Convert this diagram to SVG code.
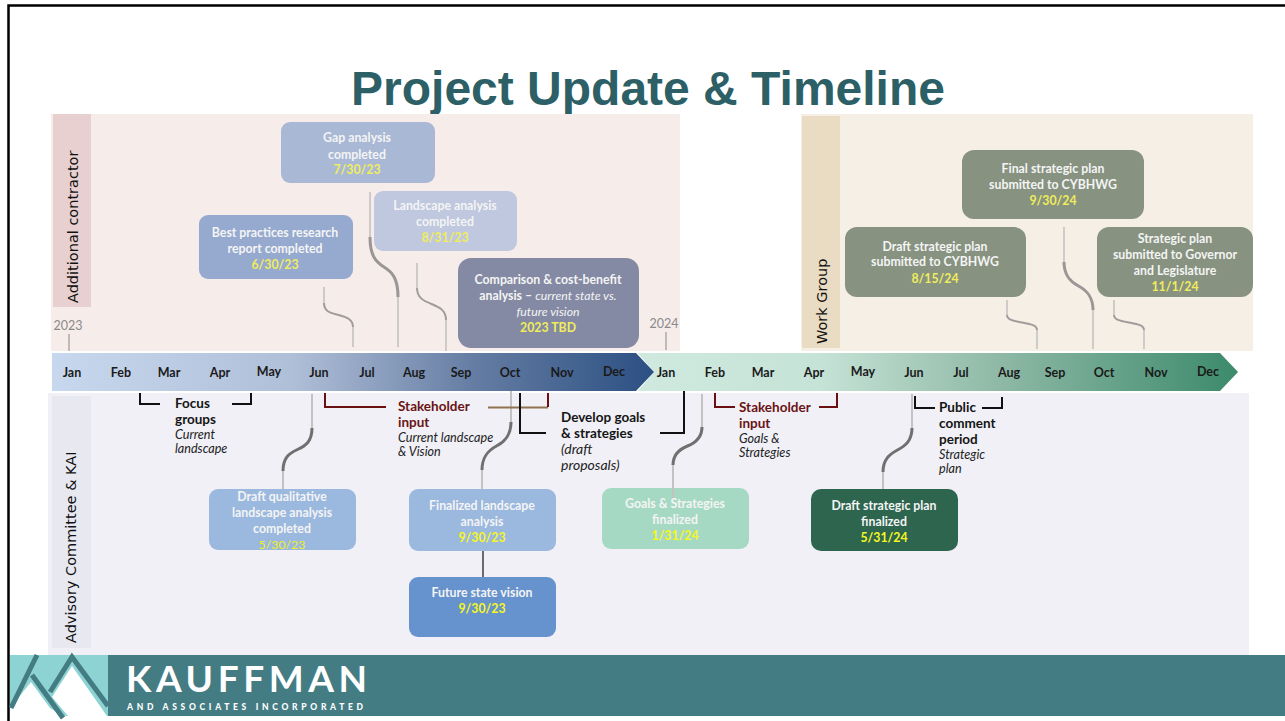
<svg xmlns="http://www.w3.org/2000/svg" width="1285" height="721" viewBox="0 0 1285 721">
<defs>
<linearGradient id="g1" x1="0" x2="1" y1="0" y2="0"><stop offset="0" stop-color="#c7d8ee"/><stop offset=".4" stop-color="#b0bfd8"/><stop offset=".7" stop-color="#657da3"/><stop offset="1" stop-color="#2b5082"/></linearGradient>
<linearGradient id="g2" x1="0" x2="1" y1="0" y2="0"><stop offset="0" stop-color="#cfe9df"/><stop offset=".3" stop-color="#c6e3d7"/><stop offset=".6" stop-color="#8fb9a6"/><stop offset="1" stop-color="#3c8a6c"/></linearGradient>
</defs>
<style>
text{font-family:"Lato","Carlito","Liberation Sans",sans-serif}
.m{font-size:12.5px;font-weight:700;fill:#1a1a1a;text-anchor:middle}
.w{font-size:12.3px;font-weight:700;fill:#f4f4f4;text-anchor:middle}
.y{font-size:12.3px;font-weight:700;fill:#f0ec5c;text-anchor:middle}
.l{font-size:13.5px;font-weight:700;fill:#151515}
.r{font-size:13.5px;font-weight:700;fill:#6a1414}
.i{font-size:12.6px;font-style:italic;fill:#222}
.v{font-family:"DejaVu Sans",sans-serif;font-size:14.5px;fill:#111}
.yr{font-size:12.5px;fill:#8a8a8a;text-anchor:middle}
.thin{fill:none;stroke:#b4b4b4;stroke-width:1.2}
.thin2{fill:none;stroke:#c2c2c2;stroke-width:2}
.thick{fill:none;stroke:#a09c9c;stroke-width:2}
.thick2{fill:none;stroke:#9a9696;stroke-width:3}
.thick3{fill:none;stroke:#707070;stroke-width:3}
.blk{fill:none;stroke:#111;stroke-width:2}
.red{fill:none;stroke:#6a1010;stroke-width:2}
</style>
<rect width="1285" height="721" fill="#fff"/>
<path d="M8.500 721V5.500H1285" fill="none" stroke="#000" stroke-width="2.500"/>
<g id="title"><text x="648" y="105" text-anchor="middle" style="font-family:'Liberation Sans',sans-serif;font-size:48px;font-weight:700;fill:#2d5f66">Project Update &amp; Timeline</text></g>
<g id="lane-additional"><rect x="51" y="114" width="629" height="237" fill="#f6ecea"/><rect x="53" y="114" width="38" height="193" fill="#e8d0d0"/><text class="v" transform="translate(78 303) rotate(-90)">Additional contractor</text></g>
<g id="lane-workgroup"><rect x="801" y="114" width="452" height="237" fill="#f6efe6"/><rect x="802" y="116" width="38" height="232" fill="#e9dcc2"/><text class="v" transform="translate(827 344) rotate(-90)">Work Group</text></g>
<g id="lane-advisory"><rect x="48" y="393" width="1201" height="262" fill="#f0f0f6"/><rect x="52" y="396" width="39" height="252" fill="#e8e8f1"/><text class="v" transform="translate(76 643) rotate(-90)">Advisory Committee &amp; KAI</text></g>
<g id="year-2023"><text class="yr" x="68" y="330">2023</text><path d="M69 334V351" stroke="#999" stroke-width="1.200"/></g>
<g id="year-2024"><text class="yr" x="664" y="328">2024</text><path d="M666 332V350" stroke="#999" stroke-width="1.200"/></g>
<g id="timeline-2023"><path d="M638 353H1220L1238 372 1220 391H638L654 372Z" fill="url(#g2)"/><path d="M52 353H636L654 372 636 391H52Z" fill="url(#g1)"/>
<text class="m" x="72" y="377">Jan</text><text class="m" x="121" y="377">Feb</text><text class="m" x="169" y="377">Mar</text><text class="m" x="220" y="377">Apr</text><text class="m" x="269" y="376">May</text><text class="m" x="319" y="377">Jun</text><text class="m" x="367" y="377">Jul</text><text class="m" x="414" y="377">Aug</text><text class="m" x="461" y="377">Sep</text><text class="m" x="510" y="377">Oct</text><text class="m" x="562" y="377">Nov</text><text class="m" x="614" y="376">Dec</text></g>
<g id="timeline-2024"><text class="m" x="666" y="377">Jan</text><text class="m" x="715" y="377">Feb</text><text class="m" x="763" y="377">Mar</text><text class="m" x="814" y="377">Apr</text><text class="m" x="863" y="376">May</text><text class="m" x="914" y="377">Jun</text><text class="m" x="961" y="377">Jul</text><text class="m" x="1009" y="377">Aug</text><text class="m" x="1055" y="377">Sep</text><text class="m" x="1104" y="377">Oct</text><text class="m" x="1156" y="377">Nov</text><text class="m" x="1208" y="376">Dec</text></g>
<g id="connectors">
<path class="thin" d="M324 287V303M353 327V347"/><path class="thick" d="M324 303C324 312 331 313 338.500 315S353 319 353 327"/>
<path class="thin" d="M370 192V237M398 297V347"/><path class="thick2" d="M370 237C370 256 376 262 384 267S398 278 398 297"/>
<path class="thin" d="M417 263V288M446 320V351"/><path class="thick" d="M417 288C417 298 424 301 431.500 304S446 310 446 320"/>
<path class="thin" d="M1007 300V315M1037 330V349"/><path class="thick" d="M1007 315C1007 320 1014 321 1022 322.500S1037 325 1037 330"/>
<path class="thin" d="M1064 227V262M1093 310V349"/><path class="thick2" d="M1064 262C1064 276 1071 282 1078.500 286S1093 296 1093 310"/>
<path class="thin" d="M1114 300V315M1144 330V349"/><path class="thick" d="M1114 315C1114 320 1121 321 1129 322.500S1144 325 1144 330"/>
<path class="thin2" d="M312 394V428M283 471V489"/><path class="thick3" d="M312 428C312 442 305 446 297.500 449.500S283 457 283 471"/>
<path class="thin2" d="M511 391V422M482 470V489"/><path class="thick3" d="M511 422C511 436 504 442 496.500 446S482 456 482 470"/>
<path class="thin2" d="M702 394V427M673 465V498"/><path class="thick3" d="M702 427C702 438 695 443 687.500 446S673 454 673 465"/>
<path class="thin2" d="M912 394V428M883 472V489"/><path class="thick3" d="M912 428C912 441 905 446 897.500 450S883 459 883 472"/>
<path class="blk" d="M140 393V404H160M232 404H251V393"/>
<path class="red" d="M325 393V407H386"/>
<path d="M488 407.500H548" stroke="#8f7350" stroke-width="2" fill="none"/><path class="red" d="M548 393V407"/>
<path class="blk" d="M520 393V433H546M684 391V433H660"/>
<path class="red" d="M715 393V407H735M819 407H837V393"/>
<path class="blk" d="M915 396V408H935M982 408H1002V397"/>
<path d="M483 551V577" stroke="#111" stroke-width="1.200"/>
</g>
<g id="gap"><rect x="281" y="122" width="154" height="61" rx="9" fill="#a9b8d5"/><text class="w" x="357" y="141.500">Gap analysis</text><text class="w" x="357" y="158.500">completed</text><text class="y" x="357" y="173.500">7/30/23</text></g>
<g id="landscape"><rect x="374" y="191" width="143" height="60" rx="9" fill="#bfc8de"/><text class="w" x="445" y="209.500">Landscape analysis</text><text class="w" x="445" y="225.500">completed</text><text class="y" x="445" y="241.500">8/31/23</text></g>
<g id="best"><rect x="199" y="215" width="154" height="64" rx="9" fill="#96a9cf"/><text class="w" x="275" y="236.500">Best practices research</text><text class="w" x="275" y="252.500">report completed</text><text class="y" x="275" y="268.500">6/30/23</text></g>
<g id="comparison"><rect x="458" y="258" width="181" height="90" rx="13" fill="#848aa3"/><text class="w" x="548" y="283.500">Comparison &amp; cost-benefit</text><text class="w" x="548" y="299.500">analysis – <tspan font-style="italic" font-weight="400">current state vs.</tspan></text><text class="w" x="548" y="315.500" font-style="italic" style="font-weight:400">future vision</text><text class="y" x="548" y="331.500">2023 TBD</text></g>
<g id="final"><rect x="962" y="150" width="182" height="69" rx="12" fill="#879380"/><text class="w" x="1053" y="172.500">Final strategic plan</text><text class="w" x="1053" y="188.500">submitted to CYBHWG</text><text class="y" x="1053" y="204.500">9/30/24</text></g>
<g id="draft-sub"><rect x="845" y="227" width="181" height="70" rx="12" fill="#879380"/><text class="w" x="935" y="250.500">Draft strategic plan</text><text class="w" x="935" y="265.500">submitted to CYBHWG</text><text class="y" x="935" y="282.500">8/15/24</text></g>
<g id="strategic-sub"><rect x="1097" y="227" width="156" height="70" rx="12" fill="#879380"/><text class="w" x="1175" y="242.500">Strategic plan</text><text class="w" x="1175" y="258.500">submitted to Governor</text><text class="w" x="1175" y="274.500">and Legislature</text><text class="y" x="1175" y="290.500">11/1/24</text></g>
<g id="draft-qual"><rect x="209" y="489" width="147" height="61" rx="9" fill="#9bb8df"/><text class="w" x="282" y="500.500">Draft qualitative</text><text class="w" x="282" y="516.500">landscape analysis</text><text class="w" x="282" y="532.500">completed</text><text class="y" x="282" y="548.500" style="font-weight:400;fill:#f0f020">5/30/23</text></g>
<g id="finalized"><rect x="409" y="489" width="147" height="62" rx="9" fill="#9bb8df"/><text class="w" x="482" y="509.500">Finalized landscape</text><text class="w" x="482" y="525.500">analysis</text><text class="y" x="482" y="541.500" style="fill:#f6f620">9/30/23</text></g>
<g id="future"><rect x="409" y="577" width="147" height="60" rx="9" fill="#6693cd"/><text class="w" x="482" y="596.500">Future state vision</text><text class="y" x="482" y="612.500" style="fill:#f6f620">9/30/23</text></g>
<g id="goals"><rect x="602" y="488" width="147" height="61" rx="9" fill="#a6d9c4"/><path class="thin2" d="M673 488V498"/><text class="w" x="675" y="507.500">Goals &amp; Strategies</text><text class="w" x="675" y="523.500">finalized</text><text class="y" x="675" y="539.500" style="fill:#f6f620">1/31/24</text></g>
<g id="draft-plan"><rect x="811" y="489" width="147" height="62" rx="10" fill="#2d654f"/><text class="w" x="884" y="509.500">Draft strategic plan</text><text class="w" x="884" y="525.500">finalized</text><text class="y" x="884" y="541.500" style="fill:#f6f620">5/31/24</text></g>
<g id="labels">
<text class="l" x="175" y="408">Focus</text><text class="l" x="175" y="424">groups</text><text class="i" x="175" y="439">Current</text><text class="i" x="175" y="453">landscape</text>
<text class="r" x="398" y="411">Stakeholder</text><text class="r" x="398" y="427">input</text><text class="i" x="398" y="442">Current landscape</text><text class="i" x="398" y="456">&amp; Vision</text>
<text class="l" x="561" y="422">Develop goals</text><text class="l" x="561" y="438">&amp; strategies</text><text class="i" x="561" y="454" style="font-size:14px">(draft</text><text class="i" x="561" y="470" style="font-size:14px">proposals)</text>
<text class="r" x="739" y="412">Stakeholder</text><text class="r" x="739" y="428">input</text><text class="i" x="739" y="443">Goals &amp;</text><text class="i" x="739" y="457">Strategies</text>
<text class="l" x="939" y="412">Public</text><text class="l" x="939" y="428">comment</text><text class="l" x="939" y="444">period</text><text class="i" x="939" y="459">Strategic</text><text class="i" x="939" y="473">plan</text>
</g>
<g id="footer"><rect x="10" y="655" width="1275" height="61" fill="#447c84"/><rect x="10" y="655" width="98" height="61" fill="#8dd3d3"/>
<path d="M10 716V708L31 682 50 708 63 716ZM52 697L72 666 107 716H68Z" fill="#fff"/>
<path d="M11 708L37 655M32 675L63 718M50 692L72 657 108 706" fill="none" stroke="#447c84" stroke-width="5"/>
<text x="126" y="692" style="font-family:'Lato',sans-serif;font-size:37px;font-weight:700;letter-spacing:4.600px;fill:#fff">KAUFFMAN</text>
<text x="127" y="710" style="font-family:'Lato',sans-serif;font-size:8.500px;font-weight:900;letter-spacing:3.700px;fill:#fff">AND ASSOCIATES INCORPORATED</text></g>
</svg>
